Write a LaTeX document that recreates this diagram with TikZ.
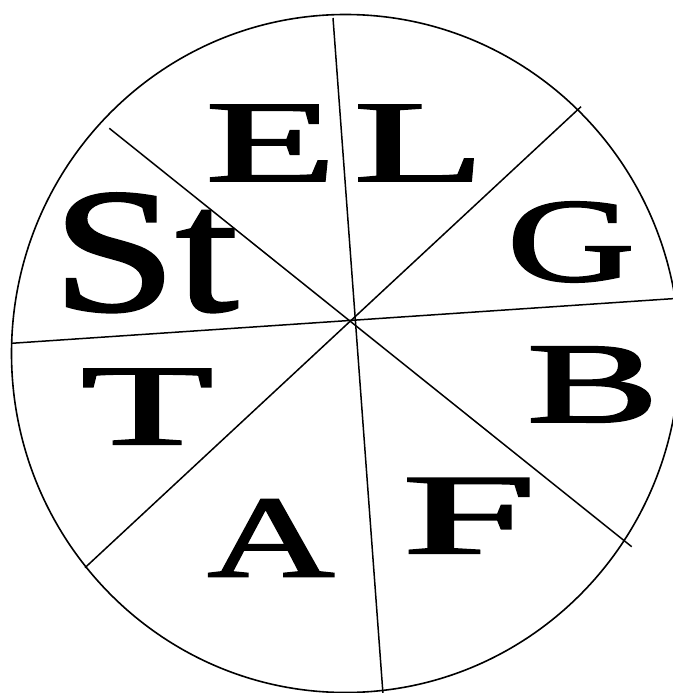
\documentclass[tikz,border=0pt]{standalone}
\usepackage{fontspec}
\usepackage{graphicx}
\setmainfont{Liberation Serif}
\newfontfamily\wheelfont[FakeBold=1.6]{Liberation Serif}
\tikzset{
  wheel/.style={line width=1.6pt, black},
  spoke/.style={line width=1.5pt, black},
  letter/.style={inner sep=0pt, outer sep=0pt, font=\wheelfont, anchor=center}
}
\begin{document}
\begin{tikzpicture}[x=1pt,y=-1pt]
\useasboundingbox (0,0) rectangle (672,693);
\fill[white] (0,0) rectangle (672,693);
% rim
\draw[wheel] (345.5,353.5) ellipse [x radius=334, y radius=339];
% spoke ends
\coordinate (vt) at (333,18);
\coordinate (vb) at (383,694);
\coordinate (hl) at (11.5,343.3);
\coordinate (hr) at (690,297.5);
\coordinate (nw) at (109.3,128.3);
\coordinate (se) at (631.7,546.7);
\coordinate (ne) at (581,106.7);
\coordinate (sw) at (85,567.7);
\draw[spoke] (vt) -- (vb);
\draw[spoke] (hl) -- (hr);
\draw[spoke] (nw) -- (se);
\draw[spoke] (ne) -- (sw);
% letters
\node[letter] (e) at (271,143) {\resizebox{131pt}{76pt}{E}};
\node[letter] (l) at (419.4,143) {\resizebox{131pt}{76pt}{L}};
\node[letter] (st) at (145.2,252.8) {\resizebox{185pt}{117pt}{St}};
\node[letter] (g) at (571,242) {\resizebox{128pt}{79pt}{G}};
\node[letter] (t) at (147.2,406.6) {\resizebox{132pt}{75pt}{T}};
\node[letter] (b) at (593,384.5) {\resizebox{132pt}{75pt}{B}};
\node[letter] (f) at (469.3,515.8) {\resizebox{134pt}{75pt}{F}};
\node[letter] (a) at (271,538) {\resizebox{127pt}{77pt}{A}};
\end{tikzpicture}
\end{document}
